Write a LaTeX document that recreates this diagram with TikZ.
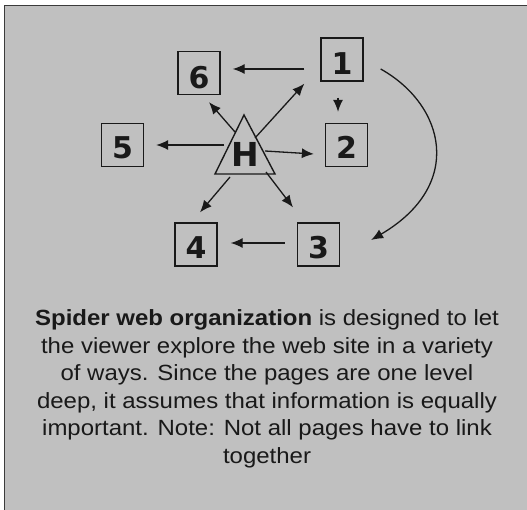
\documentclass[tikz,border=0pt]{standalone}
\usepackage{fontspec}
\setmainfont{Liberation Sans}
\newfontfamily\wideSans[FakeStretch=1.09]{Liberation Sans}
\newfontfamily\digitfont{DejaVu Sans}
\usetikzlibrary{arrows.meta,calc}
\definecolor{panel}{RGB}{192,192,192}
\definecolor{ink}{RGB}{25,25,25}
\begin{document}
\begin{tikzpicture}[x=1pt,y=-1pt,
  pagebox/.style={draw=ink,line width=1.3pt,minimum width=42pt,minimum height=43pt,inner sep=0pt,
    font=\digitfont\fontsize{30}{30}\bfseries\selectfont,text=ink},
  arr/.style={draw=ink,line width=1.3pt,-{Latex[length=12pt,width=10pt]}},
]
\useasboundingbox (0,0) rectangle (527,510);
\fill[white] (0,0) rectangle (527,510);
\fill[panel] (4,5) rectangle (535,520);
\draw[ink!85,line width=1.6pt] (4.5,520) -- (4.5,5.5) -- (535,5.5);

\node[pagebox] (n1) at (342,59.5) {\raisebox{-4pt}[23pt][0pt]{1}};
\node[pagebox] (n6) at (199,73) {\raisebox{-4pt}[23pt][0pt]{6}};
\node[pagebox] (n5) at (122.5,145) {\raisebox{-2pt}[23pt][0pt]{5}};
\node[pagebox] (n2) at (346.5,145) {\raisebox{-2pt}[23pt][0pt]{2}};
\node[pagebox] (n4) at (196,244.5) {\raisebox{-3pt}[23pt][0pt]{4}};
\node[pagebox] (n3) at (318.5,244.5) {\raisebox{-3pt}[23pt][0pt]{3}};

\node[inner sep=0pt,font=\digitfont\fontsize{33}{33}\bfseries\selectfont,text=ink] (H) at (245,154.5) {H};
\draw[ink,line width=1.4pt,line join=miter]
  ([shift={(-1,-39.5)}]H.center) -- ([shift={(-30,19.5)}]H.center) -- ([shift={(30,19.5)}]H.center) -- cycle;

% arrows from H
\draw[arr] ([shift={(10,-16.5)}]H.center) -- ([shift={(-16,2)}]n1.south west);
\draw[arr] ([shift={(-10,-22.5)}]H.center) -- ([shift={(10,7)}]n6.south);
\draw[arr] ([shift={(-21,-9.5)}]H.center) -- ([shift={(12,0)}]n5.east);
\draw[arr] ([shift={(20,-3.5)}]H.center) -- ([shift={(-11,9)}]n2.west);
\draw[arr] ([shift={(-15,22.5)}]H.center) -- ([shift={(4,-10)}]n4.north);
\draw[arr] ([shift={(21,17.5)}]H.center) -- ([shift={(-25.5,-15)}]n3.north);

% arrows between pages
\draw[arr] ([shift={(-16,9.5)}]n1.west) -- ([shift={(12,-4)}]n6.east);
\draw[arr] ([shift={(-4,16)}]n1.south) -- ([shift={(-8.5,-11)}]n2.north);
\draw[arr] ([shift={(-12,-1.5)}]n3.west) -- ([shift={(13,-1.5)}]n4.east);
\draw[arr] ([shift={(17,9.5)}]n1.east) .. controls (445,105) and (465,185) .. ([shift={(31,-4.5)}]n3.east);

\node[anchor=north,inner sep=0pt,align=center,text=ink,font=\wideSans\fontsize{22}{27.5}\selectfont] (txt) at (267,309.5)
  {\textbf{Spider web organization} is designed to let\\
   the viewer explore the web site in a variety\\
   of ways. Since the pages are one level\\
   deep, it assumes that information is equally\\
   important. Note: Not all pages have to link\\
   together};
\end{tikzpicture}
\end{document}
